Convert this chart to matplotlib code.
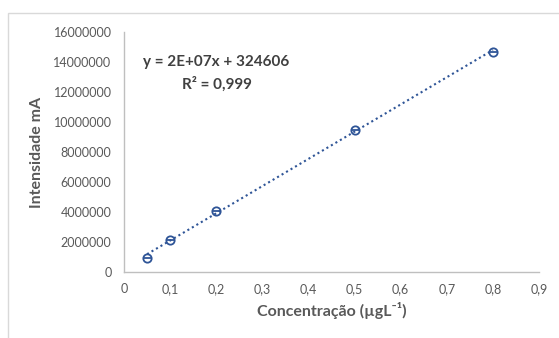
import numpy as np
import matplotlib
matplotlib.use("Agg")
import matplotlib.pyplot as plt
from matplotlib.patches import Rectangle

conc = [0.05, 0.1, 0.2, 0.5, 0.8]
intens = [950000, 2150000, 4100000, 9450000, 14700000]
xticks = [0, 0.1, 0.2, 0.3, 0.4, 0.5, 0.6, 0.7, 0.8, 0.9]
xticklabels = ["0", "0,1", "0,2", "0,3", "0,4", "0,5", "0,6", "0,7", "0,8", "0,9"]
yticks = [0, 2000000, 4000000, 6000000, 8000000, 10000000, 12000000, 14000000, 16000000]
eq_text = "y = 2E+07x + 324606"
r2_text = "R² = 0,999"

plt.rcParams['font.family'] = ['Lato', 'DejaVu Sans']
W, H = 559, 338
fig = plt.figure(figsize=(W/100, H/100), dpi=100)
fig.patch.set_facecolor('white')
fig.patches.append(Rectangle((8/W, -0.1), 1.2, (H-13)/H + 0.1, transform=fig.transFigure,
                             fill=False, edgecolor='#D9D9D9', linewidth=1.0))

ax = fig.add_axes([124/W, 1-272/H, (539-124)/W, (272-32)/H])
ax.set_xlim(0, 0.9)
ax.set_ylim(0, 16000000)

coef = np.polyfit(conc, intens, 1)
xs = np.array([min(conc), max(conc)])
ax.plot(xs, np.polyval(coef, xs), linestyle=(0, (1, 1.5)), color='#2F5597', linewidth=1.5, zorder=2)
ax.plot(conc, intens, linestyle='none', marker='o', markersize=6, markerfacecolor='none',
        markeredgecolor='#2F5597', markeredgewidth=1.3, zorder=3)
ax.plot(conc, intens, linestyle='none', marker='_', markersize=5.5, markeredgecolor='#2F5597',
        markeredgewidth=1.3, zorder=3)

ax.set_xticks(xticks)
ax.set_xticklabels(xticklabels)
ax.set_yticks(yticks)
ax.set_yticklabels([str(v) for v in yticks])
ax.tick_params(axis='both', length=0, labelsize=9, colors='#595959', pad=8)
ax.tick_params(axis='y', pad=9)
for s in ['top', 'right']:
    ax.spines[s].set_visible(False)
for s in ['left', 'bottom']:
    ax.spines[s].set_color('#BFBFBF')
    ax.spines[s].set_linewidth(1.0)

ax.set_xlabel("Concentração (µgL⁻¹)", fontsize=11.5, fontweight='bold', color='#595959', labelpad=5)
ax.set_ylabel("Intensidade mA", fontsize=11.5, fontweight='bold', color='#595959', labelpad=7)

fig.text(216/W, 1-62/H, eq_text, ha='center', va='center', fontsize=11, fontweight='bold', color='#404040')
fig.text(217/W, 1-84/H, r2_text, ha='center', va='center', fontsize=11, fontweight='bold', color='#404040')

fig.savefig("out.png", dpi=100, facecolor='white')
